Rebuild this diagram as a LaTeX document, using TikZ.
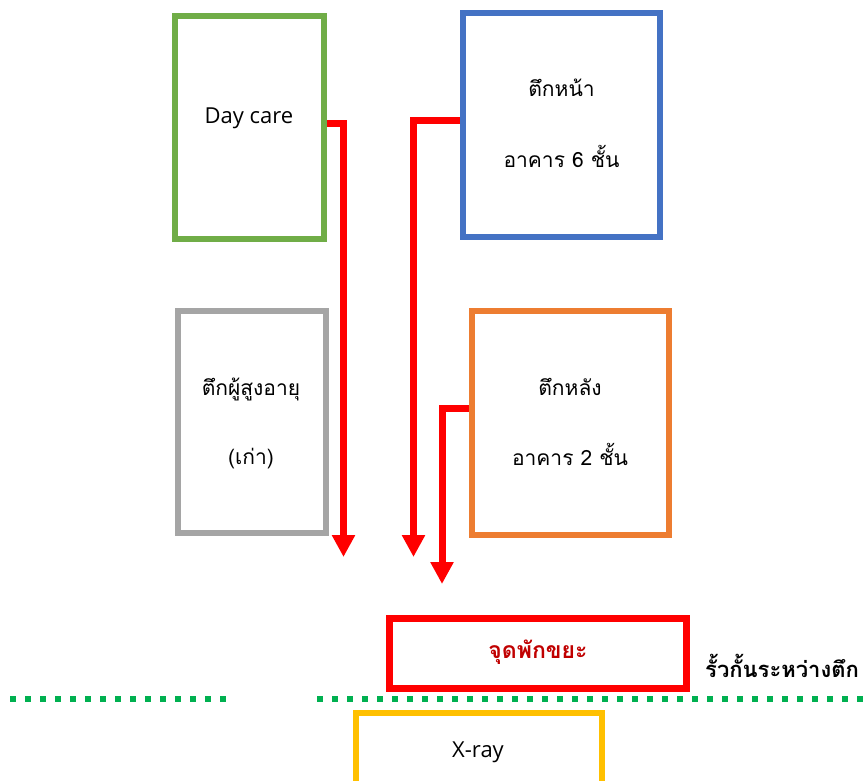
\documentclass[tikz,border=0pt]{standalone}
\usepackage{fontspec}
\newfontfamily\thaifont[Script=Thai]{Loma}
\newfontfamily\latinfont{Open Sans}
\usetikzlibrary{arrows.meta}

\definecolor{daygreen}{HTML}{70AD47}
\definecolor{frontblue}{HTML}{4472C4}
\definecolor{oldgray}{HTML}{A5A5A5}
\definecolor{backorange}{HTML}{ED7D31}
\definecolor{wastered}{HTML}{FF0000}
\definecolor{wastetext}{HTML}{C00000}
\definecolor{xraygold}{HTML}{FFC000}
\definecolor{fencegreen}{HTML}{00B050}

\begin{document}
\begin{tikzpicture}[x=1pt,y=-1pt,
  building/.style={draw, line width=6pt, inner sep=0pt, rectangle},
  thailabel/.style={font=\thaifont\fontsize{21}{26}\selectfont, anchor=base, inner sep=0pt},
  latinlabel/.style={font=\latinfont\fontsize{22}{26}\selectfont, anchor=base, inner sep=0pt},
  flow/.style={draw=wastered, line width=7pt, -{Triangle[length=22pt,width=22pt]}},
  fence/.style={draw=fencegreen, line width=6pt, dash pattern=on 6pt off 9pt}]
\useasboundingbox (0,0) rectangle (864,780);
\clip (0,0) rectangle (864,780);

% buildings
\node[building, draw=daygreen, minimum width=149pt, minimum height=223pt] (daycare) at (249.5,127.5) {};
\node[building, draw=frontblue, minimum width=197pt, minimum height=224pt] (front) at (561.5,125) {};
\node[building, draw=oldgray, minimum width=148pt, minimum height=222pt] (elderly) at (252,422) {};
\node[building, draw=backorange, minimum width=197pt, minimum height=224pt] (back) at (570.5,423) {};

% waste collection point and x-ray room
\node[building, draw=wastered, line width=7pt, minimum width=297pt, minimum height=70pt] (waste) at (538,653.5) {};
\node[building, draw=xraygold, minimum width=246pt, minimum height=90pt] (xray) at (478.5,758) {};

% labels
\node[latinlabel] (daycaretext) at (249,123) {Day care};
\node[thailabel] (fronttext1) at (561.5,96) {ตึกหน้า};
\node[thailabel] (fronttext2) at (561.5,167) {อาคาร 6 ชั้น};
\node[thailabel] (elderlytext1) at (251,395) {ตึกผู้สูงอายุ};
\node[thailabel] (elderlytext2) at (251,464) {(เก่า)};
\node[thailabel] (backtext1) at (570,395) {ตึกหลัง};
\node[thailabel] (backtext2) at (570,465) {อาคาร 2 ชั้น};
\node[thailabel, font=\thaifont\bfseries\fontsize{23}{26}\selectfont, text=wastetext] (wastetext) at (538,658) {จุดพักขยะ};
\node[latinlabel] (xraytext) at (478,757) {X-ray};
\node[thailabel, font=\thaifont\bfseries\fontsize{22}{26}\selectfont, anchor=base west] (fencetext) at (705,677) {รั้วกั้นระหว่างตึก};

% routes towards the waste point
\coordinate (tip1) at (343.5,557);
\coordinate (tip2) at (413.5,557);
\coordinate (tip3) at (442,584);
\draw[flow] ([yshift=4pt]daycare.east) -| (tip1);
\draw[flow] ([yshift=5pt]front.west) -| (tip2);
\draw[flow] ([yshift=14.5pt]back.west) -| (tip3);

% fence between buildings
\draw[fence] (10,699) -- (228,699);
\draw[fence] (317,699) -- (864,699);
\end{tikzpicture}
\end{document}
